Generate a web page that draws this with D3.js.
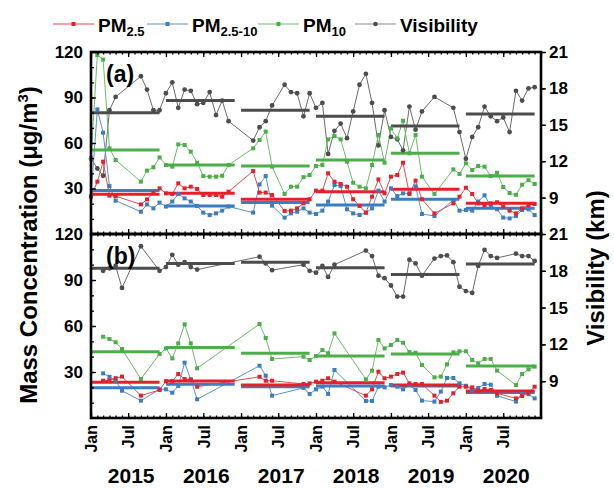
<!DOCTYPE html>
<html>
<head>
<meta charset="utf-8">
<script src="https://cdn.jsdelivr.net/npm/d3@7"></script>
<style>
  body { margin: 0; background: #fff; }
  svg text { font-family: "Liberation Sans", Arial, sans-serif; font-weight: bold; fill: #000; }
</style>
</head>
<body>
<svg id="chart" width="614" height="488"></svg>
<script>
const _ = null; // month without data

const years = [2015, 2016, 2017, 2018, 2019, 2020];
const monthTickNames = ["Jan", "Jul"];
const concTicks = [30, 60, 90, 120];
const visTicks = [9, 12, 15, 18, 21];

// ---- Panel (a): monthly values, one row per year (Jan..Dec) ----
const pm25A = [
  [24.6, 34.5, 47.7, 25.3, 25.0, _, _, _, 19.5, 22.8, 27.3, 30.1],
  [26.8, 26.4, 33.4, 30.1, 31.2, 29.7, 25.7, 25.7, 25.7, 24.6, 27.9, _],
  [_, _, 41.5, 27.3, 27.3, 25.7, _, 15.2, 15.4, 16.9, 20.2, 22.9],
  [28.6, 28.6, 40.0, 34.5, 33.0, 31.2, 22.9, 18.5, 14.1, 24.6, 36.0, 26.8],
  [37.8, 38.9, 47.0, 26.4, 35.2, 22.9, _, 13.6, _, _, 20.2, 24.6],
  [30.5, 26.4, 20.2, 19.1, 20.2, 20.9, 18.1, 15.4, 13.6, 16.9, 19.1, 19.8]
].flat();
const pmCoarseA = [
  [25.0, 82.2, 66.8, 31.6, 22.0, _, _, _, 14.7, 19.5, 16.9, 20.7],
  [18.1, 21.4, 26.4, 23.5, 21.4, 18.5, 14.1, 12.5, 13.6, 15.4, 18.1, _],
  [_, _, 14.1, 32.7, 38.2, 18.7, _, 10.8, 13.6, 14.7, 16.9, 14.1],
  [13.2, 15.4, 21.4, 32.3, 31.6, 16.3, 13.6, 12.5, 14.1, 16.9, 28.6, 21.4],
  [30.1, 25.0, 26.8, 26.8, 31.4, 13.2, _, 11.9, _, _, 22.4, 15.4],
  [15.8, 15.4, 21.4, 25.5, 18.5, 16.3, 10.8, 10.3, 11.9, 15.8, 16.3, 12.5]
].flat();
const pm10A = [
  [50.0, 118.0, 115.0, 56.5, 48.8, _, _, _, 34.5, 41.8, 44.0, 50.5],
  [45.5, 44.4, 59.1, 58.7, 54.3, 47.0, 38.2, 37.8, 37.8, 38.4, 45.5, _],
  [_, _, 56.5, 62.0, 67.5, 44.4, _, 26.4, 31.2, 31.2, 37.5, 38.9],
  [44.8, 45.5, 62.4, 64.6, 62.4, 47.7, 33.8, 31.2, 30.1, 45.5, 65.3, 47.0],
  [69.7, 63.1, 74.7, 53.2, 65.3, 37.8, _, 26.4, _, _, 42.6, 39.6],
  [46.6, 42.2, 44.8, 44.4, 38.2, 40.4, 31.0, 27.0, 25.8, 32.5, 35.5, 33.0]
].flat();
const visA = [
  [12.2, 11.4, 10.8, 16.2, 17.3, _, _, _, 19.0, 17.9, 16.2, 16.2],
  [17.6, 18.5, 16.4, 17.9, 17.8, 16.7, 16.8, 17.7, 15.8, 17.0, 15.3, _],
  [_, _, 13.7, 14.8, 15.3, 16.6, _, 18.3, 17.7, 17.6, 15.7, 17.6],
  [16.4, 16.8, 12.6, 14.5, 15.1, 13.9, 16.1, 18.3, 19.2, 16.8, 13.3, 16.2],
  [14.0, 13.8, 12.9, 16.5, 14.6, 16.1, _, 17.3, _, _, 16.4, 14.4],
  [12.2, 14.0, 14.8, 16.5, 15.7, 15.3, 15.6, 14.4, 17.8, 17.0, 18.0, 18.1]
].flat();

// Panel (a): annual means
const pm25MeanA = [26.2, 26.8, 22.9, 27.9, 29.5, 20.2];
const pmCoarseMeanA = [28.6, 18.5, 20.7, 19.1, 22.9, 16.9];
const pm10MeanA = [55.4, 45.5, 44.8, 48.8, 53.2, 38.2];
const visMeanA = [16.0, 17.0, 16.2, 15.7, 14.9, 15.9];

// ---- Panel (b): monthly values ----
const pm25B = [
  [_, _, 24.3, 24.5, 26.0, 27.0, _, _, 14.6, _, _, 18.3],
  [24.0, 24.0, 28.7, 25.4, 25.0, 20.4, _, _, _, _, _, _],
  [_, _, _, 26.9, 24.3, 24.3, _, _, _, _, 22.2, 22.6],
  [23.7, 24.3, 25.9, 23.7, _, _, _, _, 14.6, 18.7, 30.2, 25.9],
  [27.0, 28.7, 29.6, 22.6, 22.2, 22.2, _, 14.6, 10.5, 11.3, 16.1, 20.4],
  [20.4, 20.0, 17.8, 18.9, 18.3, 16.1, _, _, 12.8, 14.3, 16.5, 20.4]
].flat();
const pmCoarseB = [
  [_, _, 29.1, 26.9, 24.3, 17.8, _, _, 11.3, _, _, 18.7],
  [18.7, 16.5, 20.9, 36.1, 25.2, 12.2, _, _, _, _, _, _],
  [_, _, _, 34.1, 27.6, 14.6, _, _, _, _, 19.6, 15.7],
  [18.7, 20.4, 15.7, 31.3, _, _, _, _, 11.1, 11.1, 20.4, 20.0],
  [21.5, 20.4, 18.7, 21.5, 18.3, 11.3, _, 10.7, 17.2, 26.1, 26.1, 22.6],
  [21.0, 18.3, 19.6, 22.2, 21.7, 14.5, _, _, 10.7, 15.7, 15.5, 12.8]
].flat();
const pm10B = [
  [_, _, 53.0, 51.5, 49.4, 45.0, _, _, 25.4, _, _, 41.7],
  [45.4, 38.9, 48.7, 61.1, 48.7, 32.4, _, _, _, _, _, _],
  [_, _, _, 61.3, 52.2, 38.5, _, _, _, _, 40.0, 37.8],
  [40.4, 44.3, 42.2, 55.2, _, _, _, _, 25.2, 30.9, 50.9, 45.4],
  [47.6, 50.9, 49.1, 43.0, 42.6, 34.6, _, 26.5, 27.0, 35.0, 42.8, 43.5],
  [43.5, 37.8, 35.7, 38.5, 38.5, 30.9, _, _, 21.5, 28.7, 31.7, 33.5]
].flat();
const visB = [
  [_, _, 18.0, 18.2, 18.4, 16.6, _, _, 20.0, _, _, 18.0],
  [18.3, 19.3, 18.5, 18.7, 18.3, 18.1, _, _, _, _, _, _],
  [_, _, _, 19.15, 18.6, 18.05, _, _, _, _, 18.5, 18.0],
  [17.85, 18.4, 17.5, 18.5, _, _, _, _, 19.65, 19.2, 17.6, 17.4],
  [16.8, 15.9, 15.9, 18.9, 18.6, 17.6, _, 19.0, 19.2, 19.25, 18.7, 16.7],
  [16.35, 16.2, 18.4, 19.7, 19.2, 19.05, _, _, 19.4, 19.2, 19.2, 18.8]
].flat();

// Panel (b): annual means
const pm25MeanB = [23.3, 24.1, 21.5, 23.0, 21.5, 17.6];
const pmCoarseMeanB = [19.8, 22.0, 20.4, 20.9, 20.9, 16.7];
const pm10MeanB = [43.2, 45.9, 42.2, 40.4, 41.7, 33.9];
const visMeanB = [18.2, 18.6, 18.7, 18.25, 17.7, 18.55];

// ---- styling ----
const colors = { pm25: "#e6202a", coarse: "#3b7dc0", pm10: "#4cae48", vis: "#4d4d4d" };
const lineColors = { pm25: "#ea4a50", coarse: "#5a92cc", pm10: "#6cbd69", vis: "#6a6a6a" };
const fontStack = "'Liberation Sans', Arial, sans-serif";

const svg = d3.select("#chart");
const left = 91, right = 541;
const x = d3.scaleTime()
  .domain([new Date(2015, 0, 1), new Date(2021, 0, 1)])
  .range([left, right]);
const monthDate = i => new Date(2015, i, 1);

const panels = [
  { label: "(a)", top: 52, bottom: 234,
    series: [
      { key: "vis", values: visA, means: visMeanA, axis: "v" },
      { key: "pm10", values: pm10A, means: pm10MeanA, axis: "c" },
      { key: "coarse", values: pmCoarseA, means: pmCoarseMeanA, axis: "c" },
      { key: "pm25", values: pm25A, means: pm25MeanA, axis: "c" }
    ] },
  { label: "(b)", top: 234, bottom: 418,
    series: [
      { key: "vis", values: visB, means: visMeanB, axis: "v" },
      { key: "pm10", values: pm10B, means: pm10MeanB, axis: "c" },
      { key: "coarse", values: pmCoarseB, means: pmCoarseMeanB, axis: "c" },
      { key: "pm25", values: pm25B, means: pm25MeanB, axis: "c" }
    ] }
];

const allMonths = d3.range(0, 73).map(monthDate);
const majorMonths = allMonths.filter(d => d.getMonth() % 6 === 0);

panels.forEach((p, pi) => {
  const yC = d3.scaleLinear().domain([0, 120]).range([p.bottom, p.top]);
  const yV = d3.scaleLinear().domain([6, 21]).range([p.bottom, p.top]);
  const g = svg.append("g");

  const pts = s => s.values.map((v, i) => ({ i, v })).filter(d => d.v !== null);
  const yOf = s => (s.axis === "v" ? yV : yC);

  // thin connecting lines
  p.series.forEach(s => {
    const y = yOf(s);
    g.append("path")
      .datum(pts(s))
      .attr("fill", "none")
      .attr("stroke", lineColors[s.key])
      .attr("stroke-width", 1)
      .attr("d", d3.line().x(d => x(monthDate(d.i))).y(d => y(d.v)));
  });

  // annual mean bars (Jan..Dec of each year)
  p.series.forEach(s => {
    const y = yOf(s);
    g.selectAll(null)
      .data(s.means.map((m, k) => ({ m, year: years[k] })))
      .join("line")
      .attr("x1", d => x(new Date(d.year, 0, 1)))
      .attr("x2", d => x(new Date(d.year, 11, 1)))
      .attr("y1", d => y(d.m))
      .attr("y2", d => y(d.m))
      .attr("stroke", colors[s.key])
      .attr("stroke-width", 3);
  });

  // markers
  p.series.forEach(s => {
    const y = yOf(s);
    if (s.key === "vis") {
      g.selectAll(null).data(pts(s)).join("circle")
        .attr("cx", d => x(monthDate(d.i)))
        .attr("cy", d => y(d.v))
        .attr("r", 2.4)
        .attr("fill", colors[s.key]);
    } else {
      g.selectAll(null).data(pts(s)).join("rect")
        .attr("x", d => x(monthDate(d.i)) - 2)
        .attr("y", d => y(d.v) - 2)
        .attr("width", 4)
        .attr("height", 4)
        .attr("fill", colors[s.key]);
    }
  });

  // ---- axes ----
  const style = sel => {
    sel.select(".domain").remove();
    sel.selectAll("line").attr("stroke", "#000").attr("stroke-width", 1.3);
  };

  // x ticks, inward on top and bottom edges
  const addX = (yPos, dir) => {
    const make = dir === "top" ? d3.axisTop : d3.axisBottom;
    svg.append("g").attr("transform", `translate(0,${yPos})`)
      .call(make(x).tickValues(allMonths).tickSize(-2.5).tickFormat(""))
      .call(style);
    return svg.append("g").attr("transform", `translate(0,${yPos})`)
      .call(make(x).tickValues(majorMonths).tickSize(-5).tickFormat(""))
      .call(style);
  };
  addX(p.top, "top");
  const bottomAxis = addX(p.bottom, "bottom");

  if (pi === panels.length - 1) {
    bottomAxis.call(d3.axisBottom(x).tickValues(majorMonths.slice(0, 12)).tickSize(-5)
        .tickFormat(d => monthTickNames[d.getMonth() === 0 ? 0 : 1]))
      .call(style);
    bottomAxis.attr("font-size", 16).attr("font-family", fontStack);
    bottomAxis.selectAll("text")
      .attr("transform", "rotate(-90)")
      .attr("x", -7)
      .attr("y", 0)
      .attr("dy", "0.36em")
      .style("text-anchor", "end")
      .style("font-size", "16px")
      .style("font-weight", "bold");
  }

  // left concentration axis
  svg.append("g").attr("transform", `translate(${left},0)`)
    .call(d3.axisLeft(yC).tickValues(d3.range(10, 120, 10)).tickSize(-3).tickFormat(""))
    .call(style);
  const leftAxis = svg.append("g").attr("transform", `translate(${left},0)`)
    .call(d3.axisLeft(yC).tickValues(concTicks).tickSize(-5).tickPadding(8))
    .call(style);
  leftAxis.attr("font-size", 17).attr("font-family", fontStack);
  leftAxis.selectAll("text").style("font-size", "17px").style("font-weight", "bold");

  // right visibility axis: ticks across the frame
  svg.append("g").attr("transform", `translate(${right},0)`)
    .call(d3.axisLeft(yV).tickValues(visTicks).tickSize(-4).tickFormat(""))
    .call(style);
  const rightAxis = svg.append("g").attr("transform", `translate(${right},0)`)
    .call(d3.axisRight(yV).tickValues(visTicks).tickSize(5).tickPadding(3))
    .call(style);
  rightAxis.attr("font-size", 17).attr("font-family", fontStack);
  rightAxis.selectAll("text").style("font-size", "17px").style("font-weight", "bold");

  // frame
  svg.append("rect")
    .attr("x", left).attr("y", p.top)
    .attr("width", right - left).attr("height", p.bottom - p.top)
    .attr("fill", "none").attr("stroke", "#000").attr("stroke-width", 2.6);

  // panel tag
  svg.append("text")
    .attr("x", left + 15).attr("y", p.top + 30)
    .style("font-size", "23px")
    .text(p.label);
});

// year labels under the month ticks
svg.selectAll(null).data(years).join("text")
  .attr("x", d => x(new Date(d, 6, 1)) + 3)
  .attr("y", 483)
  .attr("text-anchor", "middle")
  .style("font-size", "21px")
  .text(d => d);

// axis titles
const yTitle = svg.append("text")
  .attr("transform", "translate(37,245) rotate(-90)")
  .attr("text-anchor", "middle")
  .style("font-size", "24px");
yTitle.append("tspan").text("Mass Concentration (μg/m");
yTitle.append("tspan").attr("dy", -9).style("font-size", "15px").text("3");
yTitle.append("tspan").attr("dy", 9).text(")");

svg.append("text")
  .attr("transform", "translate(604,268) rotate(-90)")
  .attr("text-anchor", "middle")
  .style("font-size", "24px")
  .text("Visibility (km)");

// legend
const legendItems = [
  { key: "pm25", main: "PM", sub: "2.5", x: 53 },
  { key: "coarse", main: "PM", sub: "2.5-10", x: 147 },
  { key: "pm10", main: "PM", sub: "10", x: 258 },
  { key: "vis", main: "Visibility", sub: "", x: 355 }
];
const lg = svg.append("g");
legendItems.forEach(it => {
  const ly = 24;
  lg.append("line")
    .attr("x1", it.x).attr("x2", it.x + 41)
    .attr("y1", ly).attr("y2", ly)
    .attr("stroke", it.key === "vis" ? "#8a8a8a" : lineColors[it.key])
    .attr("stroke-width", 1.2);
  if (it.key === "vis") {
    lg.append("circle").attr("cx", it.x + 20.5).attr("cy", ly).attr("r", 2.3).attr("fill", colors.vis);
  } else {
    lg.append("rect").attr("x", it.x + 18.5).attr("y", ly - 2).attr("width", 4).attr("height", 4)
      .attr("fill", colors[it.key]);
  }
  const t = lg.append("text").attr("x", it.x + 45).attr("y", 32).style("font-size", "19px");
  t.append("tspan").text(it.main);
  if (it.sub) t.append("tspan").attr("dy", 4).style("font-size", "13px").text(it.sub);
});
</script>
</body>
</html>
